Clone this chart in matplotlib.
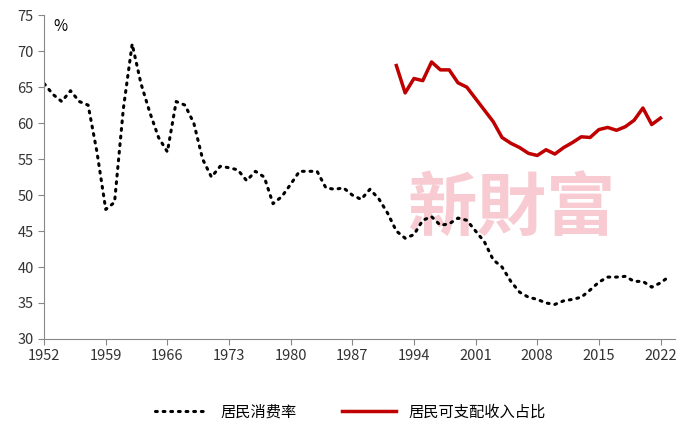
import matplotlib.pyplot as plt
import numpy as np

plt.rcParams["font.family"] = ["Noto Sans CJK SC", "DejaVu Sans"]

years = list(range(1952, 2024))
consumption = [65.5, 64, 63, 64.5, 63, 62.5, 56, 48, 49, 62,
               71, 65.5, 61.5, 58, 56, 63, 62.5, 60, 55, 52.5,
               54, 53.8, 53.5, 52, 53.3, 52.5, 48.8, 49.8, 51.5, 53.3,
               53.3, 53.3, 51, 50.8, 51, 50, 49.4, 50.8, 49.5, 47.5,
               45, 44, 44.5, 46.5, 47, 45.8, 46, 46.8, 46.5, 45,
               43.5, 41, 40, 38, 36.5, 35.8, 35.5, 35, 34.8, 35.3,
               35.5, 35.8, 36.8, 37.9, 38.6, 38.6, 38.7, 38, 38, 37.2,
               37.8, 38.7]
inc_years = list(range(1992, 2023))
income_share = [68, 64.2, 66.2, 65.9, 68.5, 67.4, 67.4, 65.6, 65, 63.4,
                61.8, 60.2, 58, 57.2, 56.6, 55.8, 55.5, 56.3, 55.7, 56.6,
                57.3, 58.1, 58, 59.1, 59.4, 59, 59.5, 60.4, 62.1, 59.8,
                60.7]
xticks = list(range(1952, 2023, 7))

fig = plt.figure(figsize=(7, 4.34), dpi=100)
ax = fig.add_axes([0.063, 0.219, 0.902, 0.746])

ax.plot(years, consumption, color="black", lw=2.2, ls=(0, (0.6, 1.9)),
        dash_capstyle="round", label="居民消费率")
ax.plot(inc_years, income_share, color="#C00000", lw=2.5, label="居民可支配收入占比")

ax.set_xlim(1952, 2023.7)
ax.set_ylim(30, 75)
ax.set_yticks(range(30, 80, 5))
ax.set_xticks(xticks)
for s in ["top", "right"]:
    ax.spines[s].set_visible(False)
for s in ["left", "bottom"]:
    ax.spines[s].set_color("#888888")
ax.tick_params(colors="#333333", labelsize=10.5, direction="out", length=4)
ax.tick_params(axis="both", color="#888888")
ax.text(0.015, 0.99, "%", transform=ax.transAxes, fontsize=11, va="top")

ax.text(0.74, 0.40, "新財富", transform=ax.transAxes, fontsize=50,
        family=["Noto Sans CJK TC", "DejaVu Sans"], fontweight="bold",
        color="#F4B6BE", alpha=0.7, ha="center", va="center", zorder=0)

fig.legend(loc="lower center", bbox_to_anchor=(0.5, 0.0), ncol=2, frameon=False,
           fontsize=11, handlelength=3.5, columnspacing=3)

fig.savefig("out.png")
